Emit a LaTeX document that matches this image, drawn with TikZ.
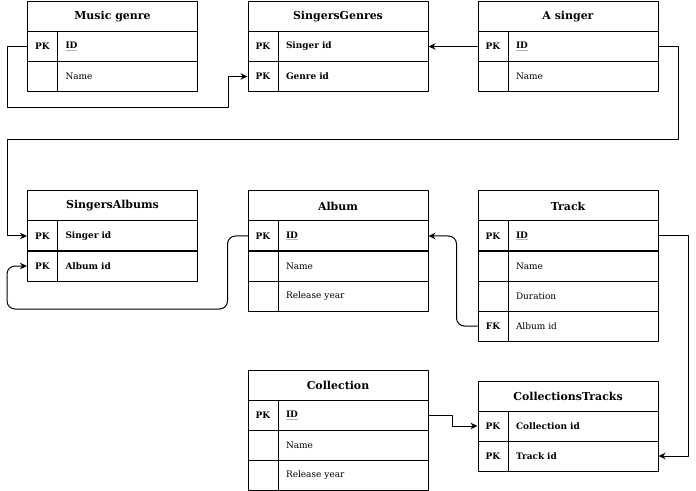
\documentclass[tikz,border=0pt]{standalone}
\usepackage{fontspec}
\setmainfont{DejaVu Serif}
\usetikzlibrary{arrows.meta}
\newcommand{\titlefont}{\bfseries\fontsize{11}{13}\selectfont}
\newcommand{\fieldfont}{\fontsize{9}{11}\selectfont}
\newcommand{\ulid}[1]{\textcolor{gray!60}{\underline{\textcolor{black}{\bfseries #1}}}}
\tikzset{
  head/.style={draw, anchor=north west, minimum width=#1, minimum height=30bp, inner sep=0pt, font=\titlefont},
  keyc/.style={draw, anchor=north west, minimum width=30bp, minimum height=30bp, inner sep=0pt, font=\bfseries\fieldfont},
  fieldc/.style={draw, anchor=north west, minimum height=30bp, inner xsep=8bp, inner ysep=0pt, text width=#1, align=left, font=\fieldfont},
}
\begin{document}
\begin{tikzpicture}[line cap=round,line join=round,line width=1bp,>={Stealth[length=7bp,width=6.5bp]},x=1bp,y=-1bp]
\useasboundingbox (0,0) rectangle (696,491);
% Music genre
\node[head=170bp] (genre) at (27,1) {Music genre};
\node[keyc] (genreIDk) at (27,31) {PK};
\node[fieldc=124bp] (genreID) at (57,31) {\ulid{ID}};
\node[keyc] (genreNamek) at (27,61) {};
\node[fieldc=124bp] (genreName) at (57,61) {Name};
% SingersGenres
\node[head=180bp] (sg) at (247.5,1) {SingersGenres};
\node[keyc] (sgSingerk) at (247.5,31) {PK};
\node[fieldc=134bp] (sgSinger) at (277.5,31) {\textbf{Singer id}};
\node[keyc] (sgGenrek) at (247.5,61) {PK};
\node[fieldc=134bp] (sgGenre) at (277.5,61) {\textbf{Genre id}};
% A singer
\node[head=180bp] (singer) at (477.5,1) {A singer};
\node[keyc] (singerIDk) at (477.5,31) {PK};
\node[fieldc=134bp] (singerID) at (507.5,31) {\ulid{ID}};
\node[keyc] (singerNamek) at (477.5,61) {};
\node[fieldc=134bp] (singerName) at (507.5,61) {Name};
% SingersAlbums
\node[head=170bp] (sa) at (27,190.5) {SingersAlbums};
\node[keyc] (saSingerk) at (27,220.5) {PK};
\node[fieldc=124bp] (saSinger) at (57,220.5) {\textbf{Singer id}};
\node[keyc] (saAlbumk) at (27,250.5) {PK};
\node[fieldc=124bp] (saAlbum) at (57,250.5) {\textbf{Album id}};
% Album
\node[head=180bp] (album) at (247.5,190.5) {Album};
\node[keyc] (albumIDk) at (247.5,220.5) {PK};
\node[fieldc=134bp] (albumID) at (277.5,220.5) {\ulid{ID}};
\node[keyc] (albumNamek) at (247.5,250.5) {};
\node[fieldc=134bp] (albumName) at (277.5,250.5) {Name};
\node[keyc] (albumYeark) at (247.5,280.5) {};
\node[fieldc=134bp] (albumYear) at (277.5,280.5) {Release year};
% Track
\node[head=180bp] (track) at (477.5,190.5) {Track};
\node[keyc] (trackIDk) at (477.5,220.5) {PK};
\node[fieldc=134bp] (trackID) at (507.5,220.5) {\ulid{ID}};
\node[keyc] (trackNamek) at (477.5,250.5) {};
\node[fieldc=134bp] (trackName) at (507.5,250.5) {Name};
\node[keyc] (trackDurk) at (477.5,280.5) {};
\node[fieldc=134bp] (trackDur) at (507.5,280.5) {Duration};
\node[keyc] (trackAlbumk) at (477.5,310.5) {FK};
\node[fieldc=134bp] (trackAlbum) at (507.5,310.5) {Album id};
% Collection
\node[head=180bp] (coll) at (247.5,370) {Collection};
\node[keyc] (collIDk) at (247.5,400) {PK};
\node[fieldc=134bp] (collID) at (277.5,400) {\ulid{ID}};
\node[keyc] (collNamek) at (247.5,430) {};
\node[fieldc=134bp] (collName) at (277.5,430) {Name};
\node[keyc] (collYeark) at (247.5,460) {};
\node[fieldc=134bp] (collYear) at (277.5,460) {Release year};
% CollectionsTracks
\node[head=180bp] (ct) at (477.5,380.5) {CollectionsTracks};
\node[keyc] (ctCollk) at (477.5,410.5) {PK};
\node[fieldc=134bp] (ctColl) at (507.5,410.5) {\textbf{Collection id}};
\node[keyc] (ctTrackk) at (477.5,440.5) {PK};
\node[fieldc=134bp] (ctTrack) at (507.5,440.5) {\textbf{Track id}};
% links
\draw[->] (genreIDk.west) -- ++(-20,0) |- (228,108) |- (sgGenrek.west);
\draw[->] (singerIDk.west) -- (sgSinger.east);
\draw[->] (singerID.east) -- ++(20,0) |- (7,140) |- (saSingerk.west);
\draw[->,rounded corners=8bp] (albumIDk.west) -- ++(-20,0) |- (7,309) |- (saAlbumk.west);
\draw[->,rounded corners=8bp] (trackAlbumk.west) -- ++(-21,0) |- (albumID.east);
\draw[->] (collID.east) -- ++(24,0) |- (ctCollk.west);
\draw[->] (trackID.east) -- ++(30,0) |- (ctTrack.east);
\end{tikzpicture}
\end{document}
